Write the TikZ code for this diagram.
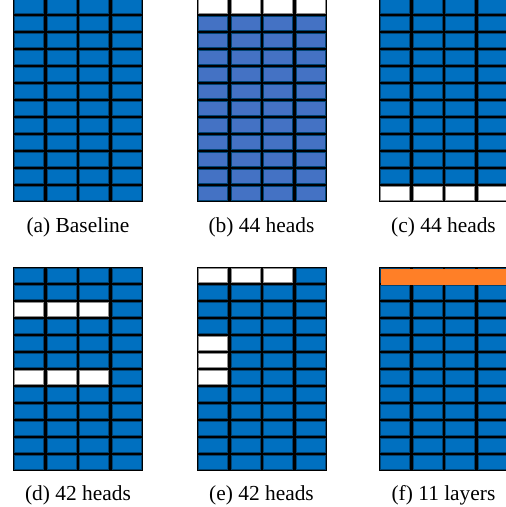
\documentclass[tikz,border=0pt]{standalone}
\usepackage{fontspec}
\setmainfont{Liberation Serif}
\usetikzlibrary{positioning}
\definecolor{cellblue}{RGB}{0,112,192}
\definecolor{celllight}{RGB}{68,114,196}
\definecolor{layerorange}{RGB}{255,127,39}
\tikzset{
  gridback/.style={fill=black},
  cellbox/.style={draw=cellblue!60!black,line width=0.5pt},
  offcell/.style={fill=white,draw=black!45,line width=0.5pt},
  layerbar/.style={fill=layerorange,draw=none},
  caption/.style={font=\fontsize{10.7}{12.8}\selectfont,anchor=center},
}

\begin{document}
\begin{tikzpicture}[x=0.5pt,y=-0.5pt]
  \useasboundingbox (0,0) rectangle (506,507);

  % six grids of 4 x 12 cells
  \foreach \gx/\gy/\gc in {13/-2/cellblue,197/-2/celllight,379/-2/cellblue,
                           13/267/cellblue,197/267/cellblue,379/267/cellblue} {
    \fill[gridback] (\gx,\gy) rectangle ++(130,204);
    \foreach \c in {0,...,3}
      \foreach \r in {0,...,11}
        \draw[cellbox,fill=\gc] (\gx+\c*32.5+1.8,\gy+\r*17+1.6) rectangle ++(29,14);
  }

  % pruned heads
  \foreach \gx/\gy/\c/\r in {197/-2/0/0,197/-2/1/0,197/-2/2/0,197/-2/3/0,
                             379/-2/0/11,379/-2/1/11,379/-2/2/11,379/-2/3/11,
                             13/267/0/2,13/267/1/2,13/267/2/2,
                             13/267/0/6,13/267/1/6,13/267/2/6,
                             197/267/0/0,197/267/1/0,197/267/2/0,
                             197/267/0/4,197/267/0/5,197/267/0/6}
    \draw[offcell] (\gx+\c*32.5+1.8,\gy+\r*17+1.6) rectangle ++(29,14);

  % pruned layer
  \fill[layerbar] (381,268.5) rectangle (509,284.5);

  \node[caption] (capa) at (78,227) {(a) Baseline};
  \node[caption] (capb) at (261.5,227) {(b) 44 heads};
  \node[caption] (capc) at (443.5,227) {(c) 44 heads};
  \node[caption] (capd) at (78,495) {(d) 42 heads};
  \node[caption] (cape) at (261.5,495) {(e) 42 heads};
  \node[caption] (capf) at (443.5,495) {(f) 11 layers};
\end{tikzpicture}
\end{document}
